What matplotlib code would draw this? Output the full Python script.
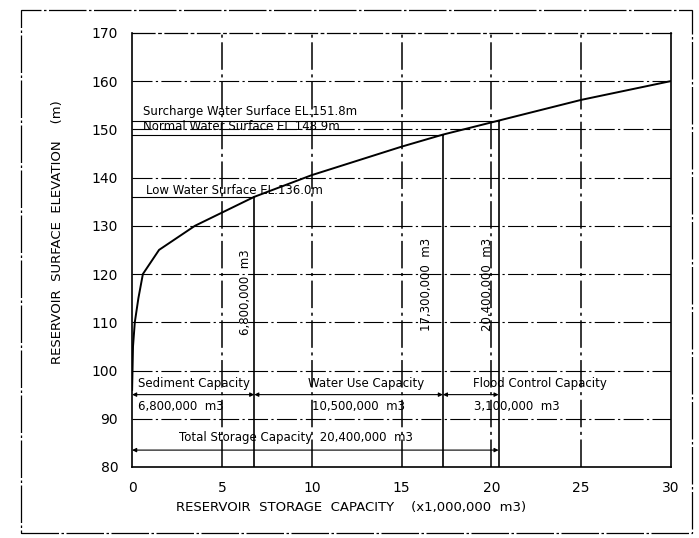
import matplotlib
matplotlib.use('Agg')
import matplotlib.pyplot as plt
from matplotlib.patches import Rectangle

# storage curve (x1,000,000 m3) vs elevation (m)
capacity  = [0, 0.05, 0.15, 0.35, 0.6, 1.5, 3.5, 6.8, 10, 15, 17.3, 20.4, 25, 30]
elevation = [96, 105, 110, 115, 120, 125, 130, 136.0, 140.5, 146.4, 148.9, 151.8, 156.1, 160]

x_ticks = [0, 5, 10, 15, 20, 25, 30]
y_ticks = [80, 90, 100, 110, 120, 130, 140, 150, 160, 170]

# key levels
el_surcharge, el_normal, el_low = 151.8, 148.9, 136.0
cap_low, cap_normal, cap_surcharge = 6.8, 17.3, 20.4
y_split, y_total = 95, 83.5

fig = plt.figure(figsize=(6.99, 5.38), dpi=100)
fig.patch.set_facecolor('white')
ax = fig.add_axes([0.189, 0.132, 0.771, 0.807])

fig.add_artist(Rectangle((0.030, 0.009), 0.960, 0.972, transform=fig.transFigure,
                         fill=False, edgecolor='black', linewidth=0.9, linestyle=(0, (30, 2, 2, 2))))

grid_ls = (0, (18, 3, 2, 3))
for yv in y_ticks[1:-1]:
    ax.axhline(yv, color='black', linewidth=0.8, linestyle=grid_ls)
for xv in x_ticks[1:-1]:
    ax.axvline(xv, color='black', linewidth=1.1, linestyle=grid_ls)

ax.plot(capacity, elevation, color='black', linewidth=1.4)

# water levels
ax.plot([0, cap_surcharge], [el_surcharge, el_surcharge], color='black', linewidth=0.8)
ax.plot([0, cap_normal], [el_normal, el_normal], color='black', linewidth=0.8)
ax.plot([0, cap_low], [el_low, el_low], color='black', linewidth=0.8)
ax.plot([cap_low, cap_low], [80, el_low], color='black', linewidth=1.2)
ax.plot([cap_normal, cap_normal], [80, el_normal], color='black', linewidth=1.2)
ax.plot([cap_surcharge, cap_surcharge], [80, el_surcharge], color='black', linewidth=1.2)

fs = 8.5
ax.text(0.6, 152.3, 'Surcharge Water Surface EL.151.8m', fontsize=fs, va='bottom')
ax.text(0.6, 150.5, 'Normal Water Surface EL.148.9m', fontsize=fs, va='center')
ax.text(0.8, 137.3, 'Low Water Surface EL.136.0m', fontsize=fs, va='center')

ax.text(6.3, 116.3, '6,800,000  m3', fontsize=fs, rotation=90, ha='center', va='center')
ax.text(16.4, 117.8, '17,300,000  m3', fontsize=fs, rotation=90, ha='center', va='center')
ax.text(19.8, 117.8, '20,400,000  m3', fontsize=fs, rotation=90, ha='center', va='center')

# capacity breakdown
arrow_kw = dict(arrowstyle='<|-|>', color='black', linewidth=0.8, mutation_scale=6,
                shrinkA=0, shrinkB=0)
for x0, x1 in [(0, cap_low), (cap_low, cap_normal), (cap_normal, cap_surcharge)]:
    ax.annotate('', xy=(x0, y_split), xytext=(x1, y_split), arrowprops=arrow_kw)
ax.annotate('', xy=(0, y_total), xytext=(cap_surcharge, y_total), arrowprops=arrow_kw)

ax.text(0.35, 97.4, 'Sediment Capacity', fontsize=fs, va='center')
ax.text(0.35, 92.5, '6,800,000  m3', fontsize=fs, va='center')
ax.text(13.0, 97.4, 'Water Use Capacity', fontsize=fs, va='center', ha='center')
ax.text(12.6, 92.5, '10,500,000  m3', fontsize=fs, va='center', ha='center')
ax.text(22.7, 97.4, 'Flood Control Capacity', fontsize=fs, va='center', ha='center')
ax.text(21.4, 92.5, '3,100,000  m3', fontsize=fs, va='center', ha='center')
ax.text(9.1, 86.2, 'Total Storage Capacity  20,400,000  m3', fontsize=fs, va='center', ha='center')

ax.set_xlim(0, 30)
ax.set_ylim(80, 170)
ax.set_xticks(x_ticks)
ax.set_yticks(y_ticks)
ax.tick_params(length=0, labelsize=10, pad=10)
for sp in ax.spines.values():
    sp.set_linewidth(1.2)
ax.spines['top'].set_linestyle(grid_ls)
ax.spines['top'].set_linewidth(0.9)

fig.text(0.502, 0.056, 'RESERVOIR  STORAGE  CAPACITY    (x1,000,000  m3)',
         fontsize=9.5, ha='center', va='center')
fig.text(0.082, 0.569, 'RESERVOIR  SURFACE  ELEVATION    (m)',
         fontsize=9.5, ha='center', va='center', rotation=90)

fig.savefig('out.png', dpi=100, facecolor='white')
